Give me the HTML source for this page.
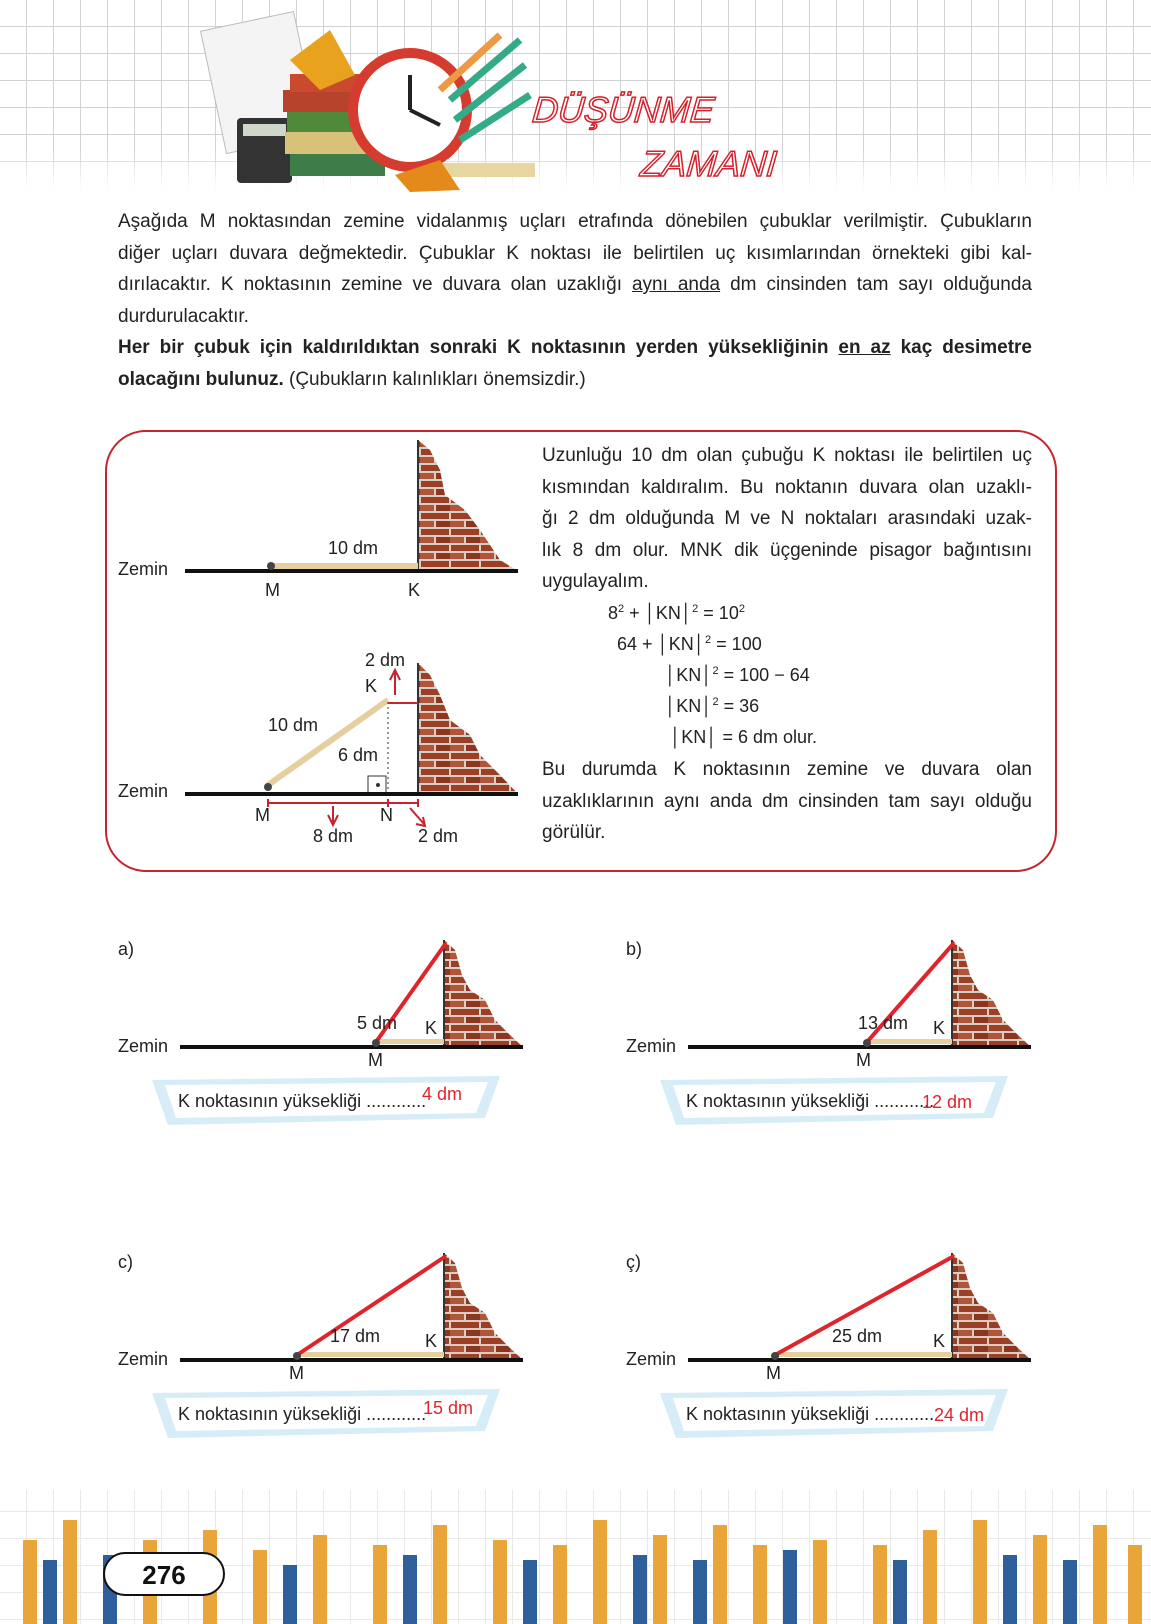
<!DOCTYPE html>
<html><head><meta charset="utf-8"><style>
body{margin:0;}
#p{position:relative;width:1151px;height:1624px;background:#fff;overflow:hidden;font-family:"Liberation Sans",sans-serif;color:#222;}
.t{position:absolute;font-size:19px;line-height:31.6px;}
.t div{text-align:justify;text-align-last:justify;white-space:nowrap;}
.t div.l{text-align-last:left;}
.a{position:absolute;font-size:18px;white-space:nowrap;}
svg{position:absolute;left:0;top:0;}
</style></head><body><div id="p">
<svg width="1151" height="1624">
<defs>
<pattern id="g" width="27" height="27" patternUnits="userSpaceOnUse"><path d="M27 0V27M0 27H27" stroke="#d2d2d6" stroke-width="2" fill="none"/></pattern>
<pattern id="br" width="30" height="16" patternUnits="userSpaceOnUse"><rect width="30" height="16" fill="#d8cfc4"/><rect x="1" y="1" width="28" height="6" fill="#9c3f26"/><rect x="-14" y="9" width="28" height="6" fill="#b0553a"/><rect x="16" y="9" width="28" height="6" fill="#8c3520"/></pattern>
<linearGradient id="fade" x1="0" y1="0" x2="0" y2="1"><stop offset="0" stop-color="#fff" stop-opacity="0"/><stop offset="1" stop-color="#fff"/></linearGradient>
</defs>
<rect width="1151" height="190" fill="url(#g)"/>
<rect y="150" width="1151" height="40" fill="url(#fade)"/>
<rect x="212" y="20" width="95" height="125" fill="#f4f4f4" stroke="#bbb" transform="rotate(-12 260 80)"/>
<rect x="237" y="118" width="55" height="65" fill="#333" rx="4"/><rect x="243" y="124" width="43" height="12" fill="#cfd8c8"/>
<rect x="283" y="90" width="95" height="22" fill="#b7432c"/><rect x="287" y="112" width="95" height="20" fill="#4f8a3a"/><rect x="285" y="132" width="100" height="22" fill="#d8c27a"/><rect x="290" y="154" width="95" height="22" fill="#3e7d4a"/><rect x="290" y="74" width="80" height="18" fill="#c94a2d"/>
<circle cx="410" cy="110" r="62" fill="#d63b2f"/><circle cx="410" cy="110" r="52" fill="#fff"/>
<path d="M410 110L410 75M410 110L440 125" stroke="#222" stroke-width="4"/>
<path d="M450 100L520 40M455 120L525 65M460 140L530 95" stroke="#3a8" stroke-width="7"/>
<path d="M440 90L500 35" stroke="#e94" stroke-width="7"/>
<rect x="440" y="163" width="95" height="14" fill="#e8d6a0"/>
<path d="M290 60L330 30L355 75L320 90Z" fill="#e9a21e"/><path d="M395 175L440 160L460 190L410 192Z" fill="#e38a1a"/>
<text x="542" y="122" font-family="Liberation Sans" font-style="italic" font-size="36" fill="#fff" stroke="#d4202a" stroke-width="1.5" transform="skewX(-5)">DÜŞÜNME</text>
<text x="655" y="176" font-family="Liberation Sans" font-style="italic" font-size="36" fill="#fff" stroke="#d4202a" stroke-width="1.5" transform="skewX(-5)">ZAMANI</text>
<rect x="106" y="431" width="950" height="440" rx="40" fill="none" stroke="#c4262e" stroke-width="2"/>
<polygon points="418,440 430,450 440,470 445,495 465,510 480,530 490,545 500,560 518,571 418,571" fill="url(#br)"/>
<line x1="418" y1="440" x2="418" y2="571" stroke="#333" stroke-width="2"/>
<rect x="271" y="563" width="147" height="6" fill="#e6cf9f"/>
<line x1="185" y1="571" x2="518" y2="571" stroke="#111" stroke-width="4"/>
<circle cx="271" cy="566" r="4" fill="#444"/>
<polygon points="418,663 430,675 440,695 450,720 470,735 480,755 500,775 518,794 418,794" fill="url(#br)"/>
<line x1="418" y1="663" x2="418" y2="794" stroke="#333" stroke-width="2"/>
<line x1="268" y1="785" x2="388" y2="700" stroke="#e6cf9f" stroke-width="6"/>
<line x1="388" y1="702" x2="388" y2="794" stroke="#333" stroke-dasharray="2,3"/>
<rect x="368" y="776" width="18" height="18" fill="none" stroke="#333"/><circle cx="378" cy="785" r="2" fill="#333"/>
<line x1="388" y1="703" x2="418" y2="703" stroke="#c4262e" stroke-width="2"/>
<path d="M395 695V672M390 680L395 670L400 680" stroke="#c4262e" stroke-width="2" fill="none"/>
<line x1="185" y1="794" x2="518" y2="794" stroke="#111" stroke-width="4"/>
<circle cx="268" cy="787" r="4" fill="#444"/>
<path d="M268 803H418M268 799V807M388 799V807M418 799V807" stroke="#c4262e" stroke-width="2" fill="none"/>
<path d="M333 806V823M328 815L333 825L338 815M410 808L424 824M416 824L425 826L423 817" stroke="#c4262e" stroke-width="2" fill="none"/>
<g>
<polygon points="444,940 455,950 462,975 470,990 485,1000 495,1020 510,1035 523,1047 444,1047" fill="url(#br)"/>
<line x1="444" y1="940" x2="444" y2="1047" stroke="#333" stroke-width="2"/>
<rect x="376" y="1039" width="68" height="5" fill="#e6cf9f"/>
<line x1="180" y1="1047" x2="523" y2="1047" stroke="#111" stroke-width="4"/>
<line x1="376" y1="1042" x2="446" y2="943" stroke="#e0242c" stroke-width="4"/>
<circle cx="376" cy="1043" r="4" fill="#444"/>
<polygon points="152,1080 500,1076 485,1118 168,1125" fill="#d6ecf7"/><polygon points="165,1085 488,1082 476,1113 176,1118" fill="#fff"/>
</g>
<g transform="translate(508,0)">
<polygon points="444,940 455,950 462,975 470,990 485,1000 495,1020 510,1035 523,1047 444,1047" fill="url(#br)"/>
<line x1="444" y1="940" x2="444" y2="1047" stroke="#333" stroke-width="2"/>
<rect x="359" y="1039" width="85" height="5" fill="#e6cf9f"/>
<line x1="180" y1="1047" x2="523" y2="1047" stroke="#111" stroke-width="4"/>
<line x1="359" y1="1042" x2="446" y2="943" stroke="#e0242c" stroke-width="4"/>
<circle cx="359" cy="1043" r="4" fill="#444"/>
<polygon points="152,1080 500,1076 485,1118 168,1125" fill="#d6ecf7"/><polygon points="165,1085 488,1082 476,1113 176,1118" fill="#fff"/>
</g>
<g transform="translate(0,313)">
<polygon points="444,940 455,950 462,975 470,990 485,1000 495,1020 510,1035 523,1047 444,1047" fill="url(#br)"/>
<line x1="444" y1="940" x2="444" y2="1047" stroke="#333" stroke-width="2"/>
<rect x="297" y="1039" width="147" height="5" fill="#e6cf9f"/>
<line x1="180" y1="1047" x2="523" y2="1047" stroke="#111" stroke-width="4"/>
<line x1="297" y1="1042" x2="446" y2="943" stroke="#e0242c" stroke-width="4"/>
<circle cx="297" cy="1043" r="4" fill="#444"/>
<polygon points="152,1080 500,1076 485,1118 168,1125" fill="#d6ecf7"/><polygon points="165,1085 488,1082 476,1113 176,1118" fill="#fff"/>
</g>
<g transform="translate(508,313)">
<polygon points="444,940 455,950 462,975 470,990 485,1000 495,1020 510,1035 523,1047 444,1047" fill="url(#br)"/>
<line x1="444" y1="940" x2="444" y2="1047" stroke="#333" stroke-width="2"/>
<rect x="267" y="1039" width="177" height="5" fill="#e6cf9f"/>
<line x1="180" y1="1047" x2="523" y2="1047" stroke="#111" stroke-width="4"/>
<line x1="267" y1="1042" x2="446" y2="943" stroke="#e0242c" stroke-width="4"/>
<circle cx="267" cy="1043" r="4" fill="#444"/>
<polygon points="152,1080 500,1076 485,1118 168,1125" fill="#d6ecf7"/><polygon points="165,1085 488,1082 476,1113 176,1118" fill="#fff"/>
</g>
<rect y="1490" width="1151" height="134" fill="url(#g)" opacity="0.5"/>
<g stroke-width="14">
<path d="M30 1624V1540M70 1624V1520M150 1624V1540M210 1624V1530M260 1624V1550M320 1624V1535M380 1624V1545M440 1624V1525M500 1624V1540M560 1624V1545M600 1624V1520M660 1624V1535M720 1624V1525M760 1624V1545M820 1624V1540M880 1624V1545M930 1624V1530M980 1624V1520M1040 1624V1535M1100 1624V1525M1135 1624V1545" stroke="#e9a43a"/>
<path d="M50 1624V1560M110 1624V1555M290 1624V1565M410 1624V1555M530 1624V1560M640 1624V1555M700 1624V1560M790 1624V1550M900 1624V1560M1010 1624V1555M1070 1624V1560" stroke="#2f5f9a"/>
</g>
<rect x="104" y="1553" width="120" height="42" rx="21" fill="#fff" stroke="#111" stroke-width="2"/>
<text x="164" y="1584" text-anchor="middle" font-family="Liberation Sans" font-weight="bold" font-size="26" fill="#111">276</text>
</svg>
<div class="t" style="left:118px;top:206px;width:914px;">
<div>Aşağıda M noktasından zemine vidalanmış uçları etrafında dönebilen çubuklar verilmiştir. Çubukların</div>
<div>diğer uçları duvara değmektedir. Çubuklar K noktası ile belirtilen uç kısımlarından örnekteki gibi kal-</div>
<div>dırılacaktır. K noktasının zemine ve duvara olan uzaklığı <u>aynı anda</u> dm cinsinden tam sayı olduğunda</div>
<div class="l">durdurulacaktır.</div>
<div><b>Her bir çubuk için kaldırıldıktan sonraki K noktasının yerden yüksekliğinin <u>en az</u> kaç desimetre</b></div>
<div class="l"><b>olacağını bulunuz.</b> (Çubukların kalınlıkları önemsizdir.)</div>
</div>
<div class="t" style="left:542px;top:440px;width:490px;">
<div>Uzunluğu 10 dm olan çubuğu K noktası ile belirtilen uç</div>
<div>kısmından kaldıralım. Bu noktanın duvara olan uzaklı-</div>
<div>ğı 2 dm olduğunda M ve N noktaları arasındaki uzak-</div>
<div>lık 8 dm olur. MNK dik üçgeninde pisagor bağıntısını</div>
<div class="l">uygulayalım.</div>
</div>
<div class="a" style="left:608px;top:603px;">8<sup style="font-size:11px">2</sup> + │KN│<sup style="font-size:11px">2</sup> = 10<sup style="font-size:11px">2</sup></div>
<div class="a" style="left:617px;top:634px;">64 + │KN│<sup style="font-size:11px">2</sup> = 100</div>
<div class="a" style="left:665px;top:665px;">│KN│<sup style="font-size:11px">2</sup> = 100 − 64</div>
<div class="a" style="left:665px;top:696px;">│KN│<sup style="font-size:11px">2</sup> = 36</div>
<div class="a" style="left:670px;top:727px;">│KN│ = 6 dm olur.</div>
<div class="t" style="left:542px;top:754px;width:490px;">
<div>Bu durumda K noktasının zemine ve duvara olan</div>
<div>uzaklıklarının aynı anda dm cinsinden tam sayı olduğu</div>
<div class="l">görülür.</div>
</div>
<div class="a" style="left:118px;top:559px;">Zemin</div><div class="a" style="left:328px;top:538px;">10 dm</div><div class="a" style="left:265px;top:580px;">M</div><div class="a" style="left:408px;top:580px;">K</div>
<div class="a" style="left:365px;top:650px;">2 dm</div><div class="a" style="left:365px;top:676px;">K</div><div class="a" style="left:268px;top:715px;">10 dm</div><div class="a" style="left:338px;top:745px;">6 dm</div><div class="a" style="left:118px;top:781px;">Zemin</div><div class="a" style="left:255px;top:805px;">M</div><div class="a" style="left:380px;top:805px;">N</div><div class="a" style="left:313px;top:826px;">8 dm</div><div class="a" style="left:418px;top:826px;">2 dm</div>
<div class="a" style="left:118px;top:939px;">a)</div><div class="a" style="left:626px;top:939px;">b)</div><div class="a" style="left:118px;top:1252px;">c)</div><div class="a" style="left:626px;top:1252px;">ç)</div>
<div class="a" style="left:118px;top:1036px;">Zemin</div><div class="a" style="left:357px;top:1013px;">5 dm</div><div class="a" style="left:425px;top:1018px;">K</div><div class="a" style="left:368px;top:1050px;">M</div>
<div class="a" style="left:626px;top:1036px;">Zemin</div><div class="a" style="left:858px;top:1013px;">13 dm</div><div class="a" style="left:933px;top:1018px;">K</div><div class="a" style="left:856px;top:1050px;">M</div>
<div class="a" style="left:118px;top:1349px;">Zemin</div><div class="a" style="left:330px;top:1326px;">17 dm</div><div class="a" style="left:425px;top:1331px;">K</div><div class="a" style="left:289px;top:1363px;">M</div>
<div class="a" style="left:626px;top:1349px;">Zemin</div><div class="a" style="left:832px;top:1326px;">25 dm</div><div class="a" style="left:933px;top:1331px;">K</div><div class="a" style="left:766px;top:1363px;">M</div>
<div class="a" style="left:178px;top:1091px;">K noktasının yüksekliği ............</div><div class="a" style="left:422px;top:1084px;color:#e0242c;">4 dm</div>
<div class="a" style="left:686px;top:1091px;">K noktasının yüksekliği ............</div><div class="a" style="left:922px;top:1092px;color:#e0242c;">12 dm</div>
<div class="a" style="left:178px;top:1404px;">K noktasının yüksekliği ............</div><div class="a" style="left:423px;top:1398px;color:#e0242c;">15 dm</div>
<div class="a" style="left:686px;top:1404px;">K noktasının yüksekliği ............</div><div class="a" style="left:934px;top:1405px;color:#e0242c;">24 dm</div>
</div></body></html>
